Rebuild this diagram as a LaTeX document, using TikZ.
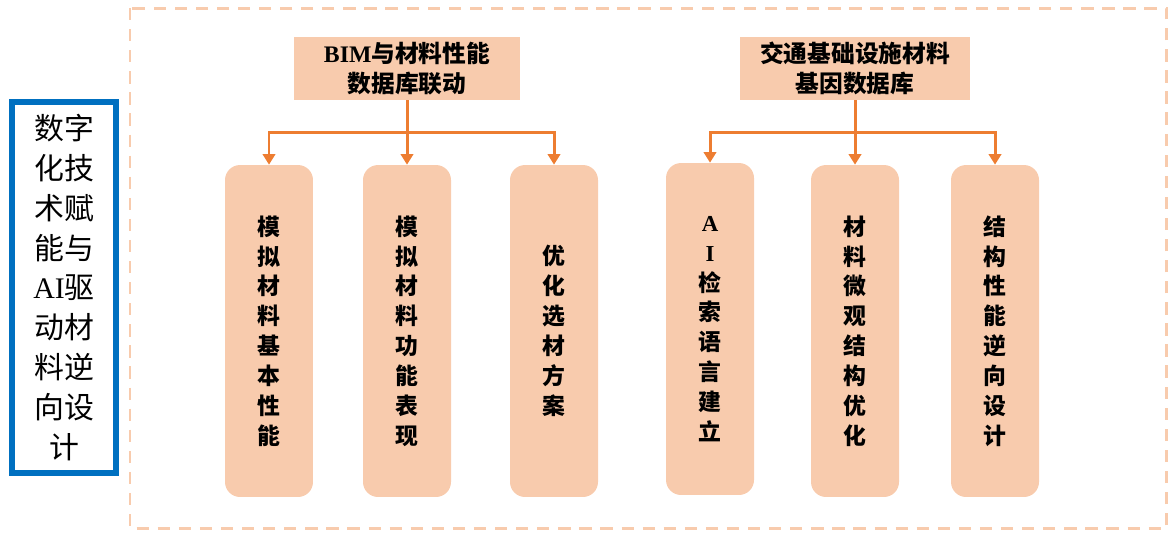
\documentclass[tikz,border=0pt]{standalone}
\usepackage{fontspec}
\setmainfont{Noto Sans CJK SC}
\newfontfamily\enfont{Liberation Serif}
\usepackage{xcolor}
\usetikzlibrary{arrows.meta}
\definecolor{peach}{HTML}{F8CBAD}
\definecolor{arrorange}{HTML}{ED7D31}
\definecolor{frameblue}{HTML}{0070C0}

\begin{document}
\begin{tikzpicture}[x=0.02cm,y=-0.02cm,
    every node/.style={inner sep=0pt, align=center},
    topbox/.style={fill=peach, minimum height=1.26cm, font=\fontsize{13.5}{17}\selectfont\bfseries},
    leafbox/.style={fill=peach, rounded corners=0.3cm, minimum width=1.76cm, minimum height=6.64cm,
                    font=\fontsize{13}{17}\selectfont\bfseries},
    arr/.style={draw=arrorange, line width=1.7pt, -{Triangle[length=6pt,width=7pt]}}]
    \useasboundingbox (0,0) rectangle (1168,532);
    % outer dashed frame
    \draw[peach, line width=1.7pt, dash pattern=on 7pt off 5pt] (130,8) rectangle (1166.5,528.5);
    % title on the left
    \node[draw=frameblue, line width=3.4pt, minimum width=2.09cm, minimum height=7.44cm,
          font=\fontsize{17}{22.7}\selectfont] (title) at (64,287.5)
          {数字\\化技\\术赋\\能与\\{\enfont AI}驱\\动材\\料逆\\向设\\计};
    % databases
    \node[topbox, minimum width=4.54cm] (t1) at (407,68.5) {{\enfont\bfseries BIM}与材料性能\\数据库联动};
    \node[topbox, minimum width=4.6cm] (t2) at (855,68.5) {交通基础设施材料\\基因数据库};
    % leaves
    \node[leafbox] (c1) at (269,331) {模\\拟\\材\\料\\基\\本\\性\\能};
    \node[leafbox] (c2) at (407,331) {模\\拟\\材\\料\\功\\能\\表\\现};
    \node[leafbox] (c3) at (554,331) {优\\化\\选\\材\\方\\案};
    \node[leafbox] (c4) at (710,329) {{\enfont\bfseries A}\\{\enfont\bfseries I}\\检\\索\\语\\言\\建\\立};
    \node[leafbox] (c5) at (855,331) {材\\料\\微\\观\\结\\构\\优\\化};
    \node[leafbox] (c6) at (995,331) {结\\构\\性\\能\\逆\\向\\设\\计};
    \foreach \from/\to in
    {t1/c1,t1/c2,t1/c3,t2/c4,t2/c5,t2/c6}
    \draw[arr] (\from.south) -- +(0,32) -| (\to.north);
\end{tikzpicture}
\end{document}
